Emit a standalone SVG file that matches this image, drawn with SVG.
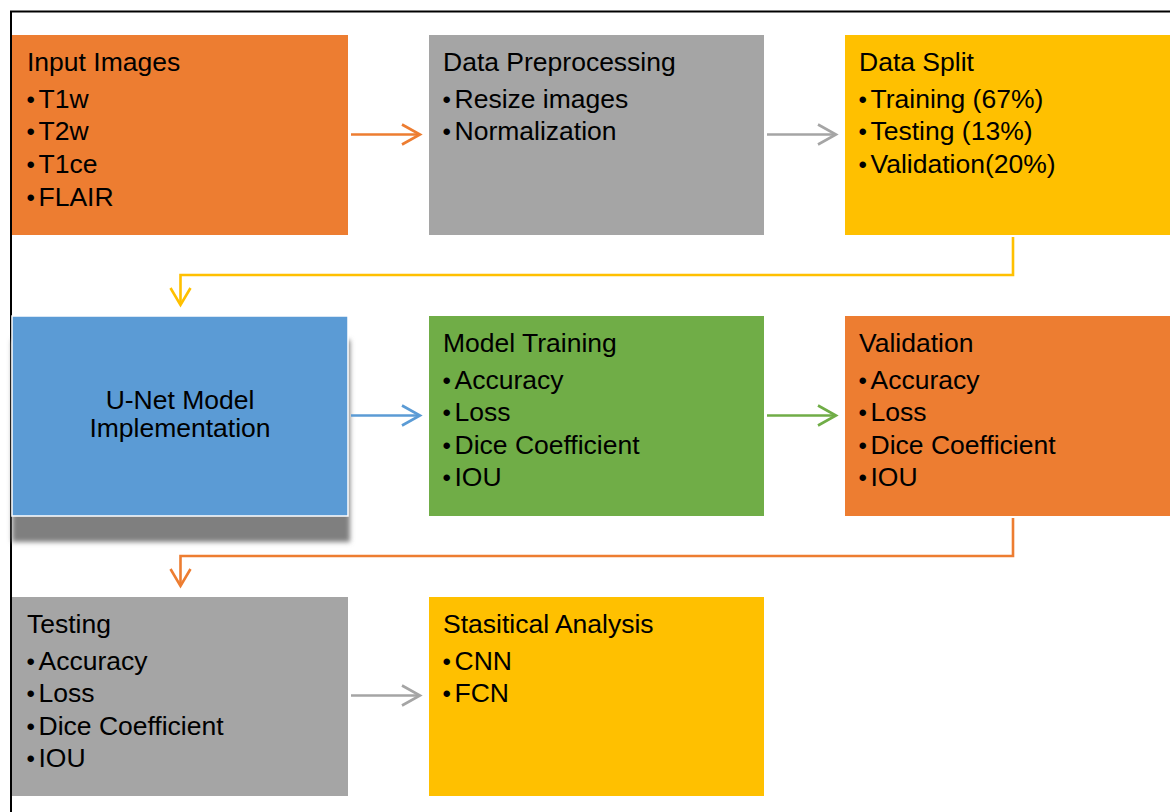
<svg xmlns="http://www.w3.org/2000/svg" width="1170" height="812" viewBox="0 0 1170 812">
  <defs>
    <style>
      text { font-family: "Liberation Sans", Arial, sans-serif; font-size: 26.5px; fill: #000; }
      .b { font-size: 24px; }
      .orange { fill: #ED7D31; }
      .gray { fill: #A5A5A5; }
      .yellow { fill: #FFC000; }
      .blue { fill: #5B9BD5; }
      .green { fill: #70AD47; }
      .link { fill: none; stroke-width: 2.6; }
      .head { fill: none; stroke-width: 2.6; stroke-linejoin: miter; }
    </style>
    <filter id="softShadow" x="-10%" y="-10%" width="120%" height="130%">
      <feGaussianBlur stdDeviation="2.5"/>
    </filter>
  </defs>

  <rect width="1170" height="812" fill="#fff"/>

  <!-- frame -->
  <path d="M11,812 V11.5 H1170" fill="none" stroke="#000" stroke-width="2"/>

  <!-- row 1 -->
  <g id="input-images">
    <rect class="orange" x="12" y="35" width="336" height="200"/>
    <text x="27" y="71">Input Images</text>
    <text y="108"><tspan class="b" x="26.5">•</tspan><tspan x="38.5">T1w</tspan></text>
    <text y="140"><tspan class="b" x="26.5">•</tspan><tspan x="38.5">T2w</tspan></text>
    <text y="173"><tspan class="b" x="26.5">•</tspan><tspan x="38.5">T1ce</tspan></text>
    <text y="206"><tspan class="b" x="26.5">•</tspan><tspan x="38.5">FLAIR</tspan></text>
  </g>

  <g id="data-preprocessing">
    <rect class="gray" x="429" y="35" width="335" height="200"/>
    <text x="443" y="71">Data Preprocessing</text>
    <text y="108"><tspan class="b" x="442.5">•</tspan><tspan x="454.5">Resize images</tspan></text>
    <text y="140"><tspan class="b" x="442.5">•</tspan><tspan x="454.5">Normalization</tspan></text>
  </g>

  <g id="data-split">
    <rect class="yellow" x="845" y="35" width="325" height="200"/>
    <text x="859" y="71">Data Split</text>
    <text y="108"><tspan class="b" x="858.5">•</tspan><tspan x="870.5">Training (67%)</tspan></text>
    <text y="140"><tspan class="b" x="858.5">•</tspan><tspan x="870.5">Testing (13%)</tspan></text>
    <text y="173"><tspan class="b" x="858.5">•</tspan><tspan x="870.5">Validation(20%)</tspan></text>
  </g>

  <!-- row 2 -->
  <g id="unet-model">
    <rect x="12" y="340" width="338" height="202" fill="#7F7F7F" filter="url(#softShadow)"/>
    <rect class="blue" x="12" y="316" width="336" height="200" stroke="#fff" stroke-width="1.5"/>
    <text x="180" y="409" text-anchor="middle">U-Net Model</text>
    <text x="180" y="437" text-anchor="middle">Implementation</text>
  </g>

  <g id="model-training">
    <rect class="green" x="429" y="316" width="335" height="200"/>
    <text x="443" y="352">Model Training</text>
    <text y="389"><tspan class="b" x="442.5">•</tspan><tspan x="454.5">Accuracy</tspan></text>
    <text y="421"><tspan class="b" x="442.5">•</tspan><tspan x="454.5">Loss</tspan></text>
    <text y="454"><tspan class="b" x="442.5">•</tspan><tspan x="454.5">Dice Coefficient</tspan></text>
    <text y="486"><tspan class="b" x="442.5">•</tspan><tspan x="454.5">IOU</tspan></text>
  </g>

  <g id="validation">
    <rect class="orange" x="845" y="316" width="325" height="200"/>
    <text x="859" y="352">Validation</text>
    <text y="389"><tspan class="b" x="858.5">•</tspan><tspan x="870.5">Accuracy</tspan></text>
    <text y="421"><tspan class="b" x="858.5">•</tspan><tspan x="870.5">Loss</tspan></text>
    <text y="454"><tspan class="b" x="858.5">•</tspan><tspan x="870.5">Dice Coefficient</tspan></text>
    <text y="486"><tspan class="b" x="858.5">•</tspan><tspan x="870.5">IOU</tspan></text>
  </g>

  <!-- row 3 -->
  <g id="testing">
    <rect class="gray" x="12" y="597" width="336" height="199"/>
    <text x="27" y="633">Testing</text>
    <text y="670"><tspan class="b" x="26.5">•</tspan><tspan x="38.5">Accuracy</tspan></text>
    <text y="702"><tspan class="b" x="26.5">•</tspan><tspan x="38.5">Loss</tspan></text>
    <text y="735"><tspan class="b" x="26.5">•</tspan><tspan x="38.5">Dice Coefficient</tspan></text>
    <text y="767"><tspan class="b" x="26.5">•</tspan><tspan x="38.5">IOU</tspan></text>
  </g>

  <g id="statistical-analysis">
    <rect class="yellow" x="429" y="597" width="335" height="199"/>
    <text x="443" y="633">Stasitical Analysis</text>
    <text y="670"><tspan class="b" x="442.5">•</tspan><tspan x="454.5">CNN</tspan></text>
    <text y="702"><tspan class="b" x="442.5">•</tspan><tspan x="454.5">FCN</tspan></text>
  </g>

  <!-- connectors -->
  <g id="connectors">
    <!-- input images to preprocessing -->
    <g stroke="#ED7D31">
      <path class="link" d="M351,134.5 H419"/>
      <path class="head" d="M402,124.5 L420,134.5 L402,144.5"/>
    </g>
    <!-- preprocessing to split -->
    <g stroke="#A5A5A5">
      <path class="link" d="M767,134.5 H835"/>
      <path class="head" d="M818,124.5 L836,134.5 L818,144.5"/>
    </g>
    <!-- split down to U-Net -->
    <g stroke="#FFC000">
      <path class="link" d="M1013,237 V275 H180.5 V304"/>
      <path class="head" d="M170.5,288 L180.5,305 L190.5,288"/>
    </g>
    <!-- U-Net to training -->
    <g stroke="#5B9BD5">
      <path class="link" d="M351,415.5 H419"/>
      <path class="head" d="M402,405.5 L420,415.5 L402,425.5"/>
    </g>
    <!-- training to validation -->
    <g stroke="#70AD47">
      <path class="link" d="M767,415.5 H835"/>
      <path class="head" d="M818,405.5 L836,415.5 L818,425.5"/>
    </g>
    <!-- validation down to testing -->
    <g stroke="#ED7D31">
      <path class="link" d="M1013,518 V556 H180.5 V585"/>
      <path class="head" d="M170.5,569 L180.5,586 L190.5,569"/>
    </g>
    <!-- testing to analysis -->
    <g stroke="#A5A5A5">
      <path class="link" d="M351,695.5 H419"/>
      <path class="head" d="M402,685.5 L420,695.5 L402,705.5"/>
    </g>
  </g>
</svg>
